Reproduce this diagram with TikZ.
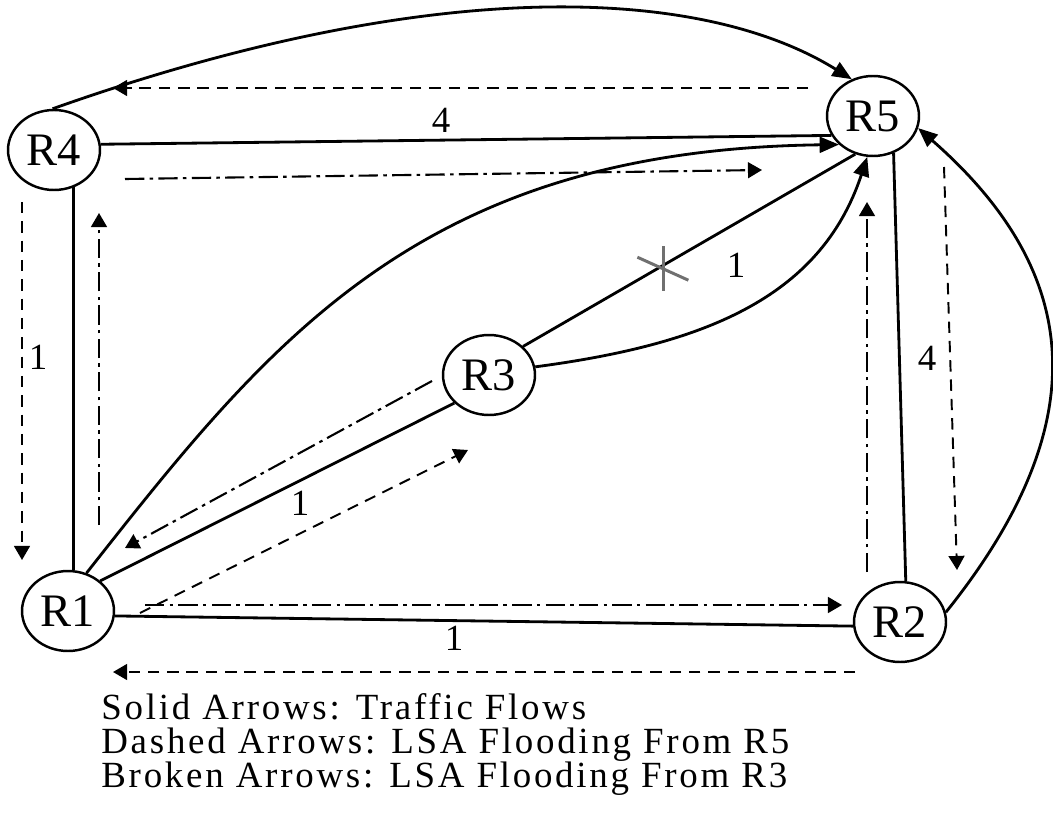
\documentclass[tikz,border=0pt]{standalone}
\usepackage{fontspec}
\setmainfont{Liberation Serif}
\usepackage{tikz}
\usetikzlibrary{calc, arrows.meta, shapes.geometric}
\definecolor{cutgray}{RGB}{112,112,112}
\tikzset{
  router/.style={draw, ellipse, line width=1.4pt, minimum width=1.84cm,
    minimum height=1.6cm, inner sep=0pt, font=\fontsize{26.5}{30}\selectfont},
  link/.style={line width=1.6pt},
  traffic/.style={line width=1.6pt, -{Triangle[length=11pt,width=9pt]}},
  floodfive/.style={line width=1.1pt, dash pattern=on 6.5pt off 4.5pt,
    -{Triangle[length=8pt,width=9pt]}},
  floodthree/.style={line width=1.2pt, dash pattern=on 11pt off 3pt on 2pt off 3pt,
    -{Triangle[length=8pt,width=9pt]}},
  costlabel/.style={font=\fontsize{21}{24}\selectfont, inner sep=0pt},
  legend/.style={font=\fontsize{21}{19.4}\selectfont\addfontfeatures{LetterSpace=7.5},
    inner sep=0pt, align=left, anchor=north west},
}

\begin{document}
\begin{tikzpicture}[x=0.02cm, y=-0.02cm]
  \useasboundingbox (0,0) rectangle (1053,814);

  % --- Routers ---
  \node[router] (r4) at (54,150) {R4};
  \node[router] (r5) at (873,116) {R5};
  \node[router] (r3) at (489,375) {R3};
  \node[router] (r1) at (68,611) {R1};
  \node[router] (r2) at (900,622) {R2};

  % --- Links ---
  \draw[link] (r4.7) -- (r5.205);
  \draw[link] (r4.-62) -- (r4.-62 |- r1.north);
  \draw[link] (r1.-6) -- (r2.185);
  \draw[link] (r1.43) -- (r3.219);
  \draw[link] (r3.40) -- coordinate[pos=0.4225] (cut) (r5.245);
  \draw[link] (r5.-61) -- (r2.82);

  % failed link R3-R5
  \draw[cutgray, line width=1.7pt] ($(cut)+(0,-19)$) -- ($(cut)+(0,26)$);
  \draw[cutgray, line width=1.7pt] ($(cut)+(-26,-8)$) -- ($(cut)+(25,15)$);

  % --- Traffic flows ---
  \draw[traffic] (r4.92) .. controls (430,-25) and (700,-15) .. (r5.120);
  \draw[traffic] (r1.64) .. controls (270,340) and (420,150) .. (r5.220);
  \draw[traffic] (r3.10) .. controls (700,345) and (820,300) .. (r5.262);
  \draw[traffic] (r2.12) .. controls (1100,420) and (1080,270) .. (r5.-15);

  % --- Link costs ---
  \node[costlabel] (c45) at (441,120) {4};
  \node[costlabel] (c41) at (38,357) {1};
  \node[costlabel] (c13) at (300,503) {1};
  \node[costlabel] (c12) at (454,638) {1};
  \node[costlabel] (c35) at (736,265) {1};
  \node[costlabel] (c52) at (927,358) {4};

  % --- LSA flooding from R5 (dashed) ---
  \coordinate (f54s) at (808,88);  \coordinate (f54e) at (113,88);
  \coordinate (f41s) at (22,202);  \coordinate (f41e) at (22,560);
  \coordinate (f13s) at (140,613); \coordinate (f13e) at (468,450);
  \coordinate (f21s) at (855,672); \coordinate (f21e) at (113,672);
  \coordinate (f52s) at (944,167); \coordinate (f52e) at (957,570);
  \draw[floodfive] (f54s) -- (f54e);
  \draw[floodfive] (f41s) -- (f41e);
  \draw[floodfive] (f13s) -- (f13e);
  \draw[floodfive] (f21s) -- (f21e);
  \draw[floodfive] (f52s) -- (f52e);

  % --- LSA flooding from R3 (broken) ---
  \coordinate (b31s) at (432,381); \coordinate (b31e) at (125,548);
  \coordinate (b12s) at (145,605); \coordinate (b12e) at (842,605);
  \coordinate (b25s) at (867,572); \coordinate (b25e) at (867,202);
  \coordinate (b14s) at (99,525);  \coordinate (b14e) at (99,213);
  \coordinate (b45s) at (125,179); \coordinate (b45e) at (762,170);
  \draw[floodthree] (b31s) -- (b31e);
  \draw[floodthree] (b12s) -- (b12e);
  \draw[floodthree] (b25s) -- (b25e);
  \draw[floodthree] (b14s) -- (b14e);
  \draw[floodthree] (b45s) -- (b45e);

  % --- Legend ---
  \node[legend] (legend) at (101,693) {Solid Arrows: Traffic Flows\\
    Dashed Arrows: LSA Flooding From R5\\
    Broken Arrows: LSA Flooding From R3};
\end{tikzpicture}
\end{document}
